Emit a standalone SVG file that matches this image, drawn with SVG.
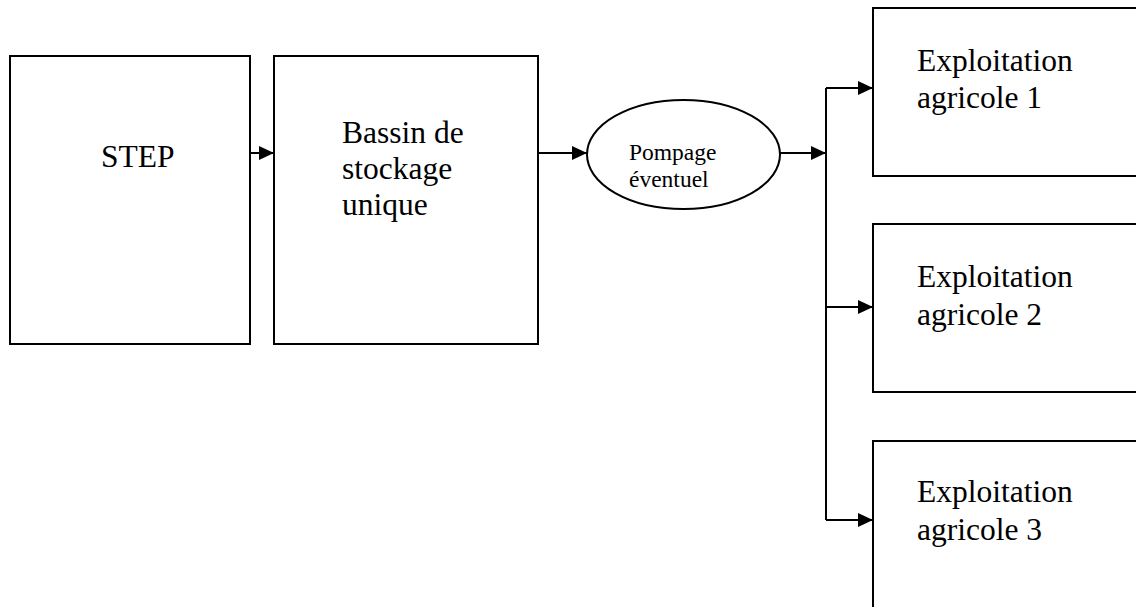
<svg xmlns="http://www.w3.org/2000/svg" width="1136" height="607" viewBox="0 0 1136 607">
  <style>
    .box { fill: #ffffff; stroke: #000000; stroke-width: 2; }
    .lbl { font-family: "Liberation Serif", "Times New Roman", serif; font-size: 31.5px; fill: #000000; }
    .small { font-family: "Liberation Serif", "Times New Roman", serif; font-size: 23.5px; fill: #000000; }
    .conn { fill: none; stroke: #000000; stroke-width: 2; }
  </style>
  <defs>
    <marker id="arrow" markerWidth="15" markerHeight="14" refX="15" refY="7" orient="auto" markerUnits="userSpaceOnUse">
      <path d="M0,0 L15,7 L0,14 Z" fill="#000000"/>
    </marker>
  </defs>
  <rect width="1136" height="607" fill="#ffffff"/>
  <g id="step">
    <rect class="box" x="10" y="56" width="240" height="288"/>
    <text class="lbl" x="101" y="167">STEP</text>
  </g>
  <g id="bassin">
    <rect class="box" x="274" y="56" width="264" height="288"/>
    <text class="lbl" x="342" y="143">Bassin de</text>
    <text class="lbl" x="342" y="179">stockage</text>
    <text class="lbl" x="342" y="215">unique</text>
  </g>
  <g id="pompage">
    <ellipse class="box" cx="683.5" cy="154.5" rx="96.5" ry="54.5"/>
    <text class="small" x="629" y="160">Pompage</text>
    <text class="small" x="629" y="187">éventuel</text>
  </g>
  <g id="exploitation1">
    <rect class="box" x="873" y="8" width="270" height="168"/>
    <text class="lbl" x="917" y="71">Exploitation</text>
    <text class="lbl" x="917" y="108">agricole 1</text>
  </g>
  <g id="exploitation2">
    <rect class="box" x="873" y="224" width="270" height="168"/>
    <text class="lbl" x="917" y="287">Exploitation</text>
    <text class="lbl" x="917" y="325">agricole 2</text>
  </g>
  <g id="exploitation3">
    <rect class="box" x="873" y="441" width="270" height="190"/>
    <text class="lbl" x="917" y="502">Exploitation</text>
    <text class="lbl" x="917" y="540">agricole 3</text>
  </g>
  <g id="connectors">
    <line class="conn" x1="250" y1="153" x2="274" y2="153" marker-end="url(#arrow)"/>
    <line class="conn" x1="538" y1="153" x2="587" y2="153" marker-end="url(#arrow)"/>
    <line class="conn" x1="780" y1="153" x2="826" y2="153" marker-end="url(#arrow)"/>
    <line class="conn" x1="826" y1="88" x2="826" y2="520"/>
    <line class="conn" x1="826" y1="88" x2="873" y2="88" marker-end="url(#arrow)"/>
    <line class="conn" x1="826" y1="307" x2="873" y2="307" marker-end="url(#arrow)"/>
    <line class="conn" x1="826" y1="520" x2="873" y2="520" marker-end="url(#arrow)"/>
  </g>
</svg>
